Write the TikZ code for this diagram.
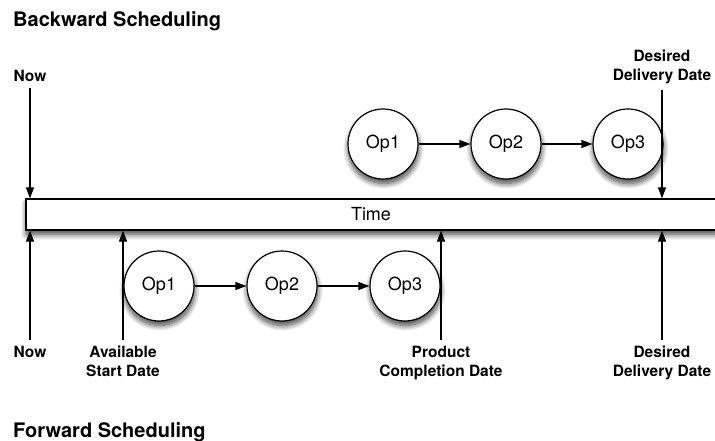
\documentclass[tikz,border=0pt]{standalone}
\usepackage{fontspec}
\setmainfont{TeX Gyre Heros}
\usetikzlibrary{arrows.meta,shadows.blur}

\begin{document}
\begin{tikzpicture}[x=1pt,y=-1pt,
  softshadow/.style={blur shadow={shadow xshift=0.5pt,shadow yshift=-4.5pt,
      shadow blur radius=5.5pt,shadow blur steps=12,shadow opacity=75}},
  op/.style={circle,draw,line width=1.2pt,fill=white,minimum size=70pt,
      inner sep=0pt,font=\fontsize{18}{20}\selectfont,softshadow},
  timebar/.style={rectangle,draw,line width=1.2pt,fill=white,
      minimum width=690pt,minimum height=31pt,inner sep=0pt,
      font=\fontsize{18}{20}\selectfont,softshadow},
  lbl/.style={font=\bfseries\fontsize{15.5}{19}\selectfont,align=center,
      inner sep=2pt,outer sep=4pt},
  heading/.style={font=\bfseries\fontsize{20}{24}\selectfont,
      anchor=base west,inner sep=0pt},
  pointer/.style={line width=1.2pt,-{Triangle[length=11pt,width=8pt]}},
  flow/.style={line width=1.2pt,-{Triangle[length=11pt,width=8pt]}}]

\useasboundingbox (0,0) rectangle (715,441);
\clip (0,0) rectangle (715,441);

% headings
\node[heading] (hback) at (13,26.5) {Backward Scheduling};
\node[heading] (hfwd)  at (13,437)  {Forward Scheduling};

% the time line
\node[timebar] (bar) at (371,214.5) {Time};

% backward scheduling: operations end at the delivery date
\node[op] (b1) at (383,144) {Op1};
\node[op] (b2) at (506,144) {Op2};
\node[op] (b3) at (628,144) {Op3};
\draw[flow] (b1) -- (b2);
\draw[flow] (b2) -- (b3);

\node[lbl,anchor=south] (nowT) at (30,88) {Now};
\node[lbl,anchor=south] (ddT)  at (662,90) {Desired\\Delivery Date};
\draw[pointer] (nowT.south) -- (nowT.south |- bar.north);
\draw[pointer] (ddT.south)  -- (ddT.south |- bar.north);

% forward scheduling: operations start at the available date
\node[op] (f1) at (159,286) {Op1};
\node[op] (f2) at (282,286) {Op2};
\node[op] (f3) at (405,286) {Op3};
\draw[flow] (f1) -- (f2);
\draw[flow] (f2) -- (f3);

\node[lbl,anchor=north] (nowB) at (30,340)  {Now};
\node[lbl,anchor=north] (asd)  at (123,340) {Available\\Start Date};
\node[lbl,anchor=north] (pcd)  at (441,340) {Product\\Completion Date};
\node[lbl,anchor=north] (ddB)  at (662,340) {Desired\\Delivery Date};
\draw[pointer] (nowB.north) -- (nowB.north |- bar.south);
\draw[pointer] (asd.north)  -- (asd.north |- bar.south);
\draw[pointer] (pcd.north)  -- (pcd.north |- bar.south);
\draw[pointer] (ddB.north)  -- (ddB.north |- bar.south);
\end{tikzpicture}
\end{document}
